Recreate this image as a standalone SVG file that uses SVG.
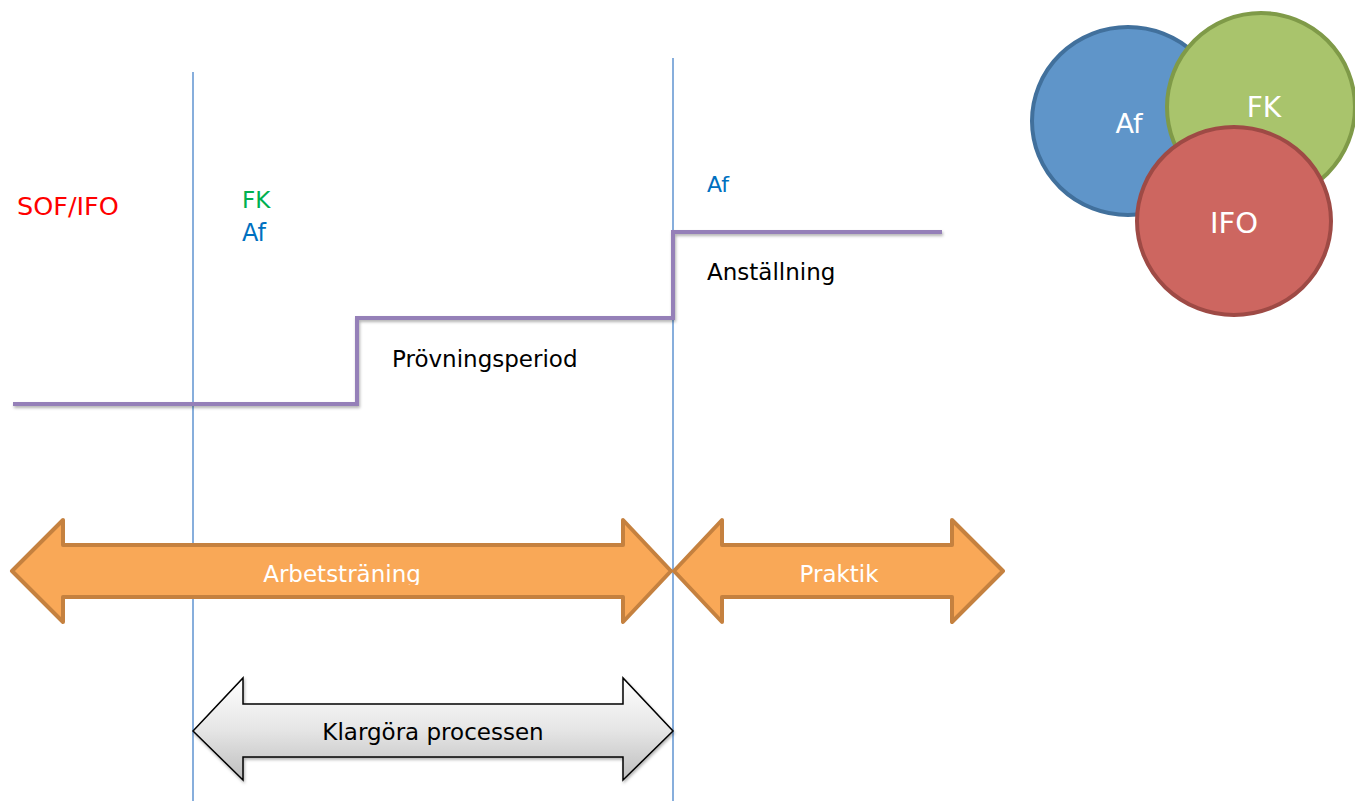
<svg xmlns="http://www.w3.org/2000/svg" width="1355" height="801" viewBox="0 0 1355 801">
<style>
text{font-family:"DejaVu Sans",Verdana,sans-serif}
.vline{stroke:#5F93D0;stroke-width:1.5;fill:none}
.step{stroke:#9580B8;stroke-width:4;fill:none;stroke-linejoin:miter}
.orange{fill:#F9A857;stroke:#C5813F;stroke-width:4;stroke-linejoin:round}
.gray{fill:url(#gg);stroke:#000;stroke-width:1.5;stroke-linejoin:miter}
.wt{fill:#fff;font-size:23px;text-anchor:middle}
.bk{fill:#000;font-size:23px}
.ct{fill:#fff;text-anchor:middle}
</style>
<defs>
<linearGradient id="gg" x1="0" y1="0" x2="0" y2="1">
<stop offset="0" stop-color="#FFFFFF"/>
<stop offset="0.5" stop-color="#E6E6E6"/>
<stop offset="1" stop-color="#BEBEBE"/>
</linearGradient>
<filter id="sh" x="-5%" y="-10%" width="110%" height="130%">
<feDropShadow dx="1" dy="2" stdDeviation="1.5" flood-color="#000" flood-opacity="0.3"/>
</filter>
<clipPath id="clipA"><rect x="0" y="540" width="700" height="45"/></clipPath>
</defs>

<g id="connectors">
<line class="vline" x1="193" y1="72" x2="193" y2="801"/>
<line class="vline" x1="673" y1="58" x2="673" y2="801"/>
<path class="step" filter="url(#sh)" d="M13,404 H357 V318 H673 V232 H942"/>
</g>

<g id="labels-left">
<text x="17" y="215" font-size="25.5" fill="#FF0000">SOF/IFO</text>
<text x="242" y="208" font-size="23" fill="#00B050">FK</text>
<text x="242" y="241" font-size="24" fill="#0070C0">Af</text>
<text x="707" y="192" font-size="22" fill="#0070C0">Af</text>
</g>

<g id="step-labels">
<text class="bk" x="392" y="367">Prövningsperiod</text>
<text class="bk" x="707" y="280">Anställning</text>
</g>

<g id="arbetstraning">
<path class="orange" d="M12,571 L63,520 V545 H623 V520 L671,571 L623,622 V597 H63 V622 Z"/>
<text class="wt" x="342" y="582" clip-path="url(#clipA)">Arbetsträning</text>
</g>

<g id="praktik">
<path class="orange" d="M674,571 L722,520 V545 H952 V520 L1003,571 L952,622 V597 H722 V622 Z"/>
<text class="wt" x="839" y="582">Praktik</text>
</g>

<g id="klargora">
<path class="gray" filter="url(#sh)" d="M193,731 L243,678 V704 H623 V678 L673,731 L623,780 V757 H243 V780 Z"/>
<text class="bk" x="433" y="740" text-anchor="middle">Klargöra processen</text>
</g>

<g id="circle-af">
<ellipse cx="1128" cy="121" rx="96" ry="94" fill="#5F95C9" stroke="#41709C" stroke-width="4"/>
<text class="ct" x="1129" y="133" font-size="27">Af</text>
</g>
<g id="circle-fk">
<ellipse cx="1261" cy="107" rx="94" ry="94" fill="#A9C46C" stroke="#7F9A48" stroke-width="4"/>
<text class="ct" x="1264" y="117" font-size="28">FK</text>
</g>
<g id="circle-ifo">
<ellipse cx="1234" cy="221" rx="97" ry="94" fill="#CD6660" stroke="#9E4A45" stroke-width="4"/>
<text class="ct" x="1234" y="233" font-size="29">IFO</text>
</g>
</svg>
